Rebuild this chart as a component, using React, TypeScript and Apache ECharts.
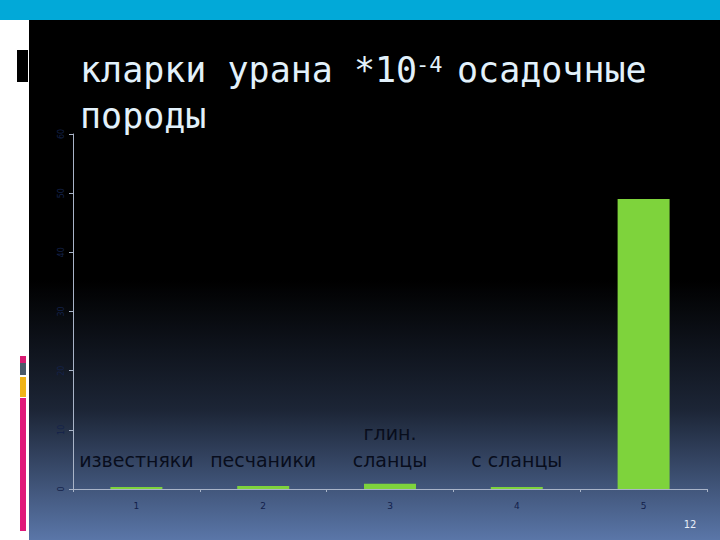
import React, { useEffect, useRef } from "react";
import * as echarts from "echarts";

const categories = ["1", "2", "3", "4", "5"];
const values = [0.35, 0.5, 0.9, 0.35, 49];
const barLabels = ["известняки", "песчаники", "глин.\nсланцы", "с сланцы", ""];
const yMin = 0;
const yMax = 60;
const yInterval = 10;

export default function App() {
  const ref = useRef<HTMLDivElement>(null);
  useEffect(() => {
    if (!ref.current) return;
    const chart = echarts.init(ref.current, null, { renderer: "svg" });
    const titleFont = "'DejaVu Sans Mono', monospace";
    const titleColor = "#e2f1fb";
    chart.setOption({
      animation: false,
      backgroundColor: "#ffffff",
      graphic: [
        { type: "rect", z: -10, shape: { x: 0, y: 0, width: 720, height: 20 }, style: { fill: "#02a9d8" } },
        { type: "rect", z: -10, shape: { x: 0, y: 20, width: 29, height: 520 }, style: { fill: "#ffffff" } },
        {
          type: "rect",
          z: -10,
          shape: { x: 29, y: 20, width: 691, height: 520 },
          style: {
            fill: new echarts.graphic.LinearGradient(0, 0, 0, 1, [
              { offset: 0, color: "#000000" },
              { offset: 0.5, color: "#000000" },
              { offset: 0.75, color: "#1c2536" },
              { offset: 1, color: "#5a76a8" },
            ]),
          },
        },
        { type: "rect", z: -9, shape: { x: 17, y: 50, width: 11, height: 32 }, style: { fill: "#000000" } },
        { type: "rect", z: -9, shape: { x: 20, y: 356, width: 6, height: 7 }, style: { fill: "#d81b72" } },
        { type: "rect", z: -9, shape: { x: 20, y: 363, width: 6, height: 12 }, style: { fill: "#4a5a6a" } },
        { type: "rect", z: -9, shape: { x: 20, y: 377, width: 6, height: 20 }, style: { fill: "#f0b418" } },
        { type: "rect", z: -9, shape: { x: 20, y: 398, width: 6, height: 133 }, style: { fill: "#e0197a" } },
        {
          type: "text",
          z: 5,
          style: { text: "кларки урана *10", x: 80, y: 87, fill: titleColor, font: `35px ${titleFont}`, verticalAlign: "bottom" },
        },
        {
          type: "text",
          z: 5,
          style: { text: "-4", x: 416, y: 53, fill: titleColor, font: `22px ${titleFont}`, verticalAlign: "top" },
        },
        {
          type: "text",
          z: 5,
          style: { text: "осадочные", x: 457, y: 87, fill: titleColor, font: `35px ${titleFont}`, verticalAlign: "bottom" },
        },
        {
          type: "text",
          z: 5,
          style: { text: "породы", x: 80, y: 133, fill: titleColor, font: `35px ${titleFont}`, verticalAlign: "bottom" },
        },
        {
          type: "text",
          z: 5,
          style: { text: "12", x: 690, y: 524, fill: "#e8eef8", font: "10px 'DejaVu Sans'", align: "center", verticalAlign: "middle" },
        },
      ],
      grid: { left: 73, right: 13, top: 134, bottom: 51, outerBoundsMode: "none", containLabel: false },
      xAxis: {
        type: "category",
        data: categories,
        axisLine: { lineStyle: { color: "#a9b4c8", width: 1 } },
        axisTick: { show: true, length: 3, lineStyle: { color: "#a9b4c8" } },
        axisLabel: { color: "#12204a", fontSize: 9, margin: 12, fontFamily: "DejaVu Sans" },
      },
      yAxis: {
        type: "value",
        min: yMin,
        max: yMax,
        interval: yInterval,
        splitLine: { show: false },
        axisLine: { show: true, lineStyle: { color: "#a9b4c8", width: 1 } },
        axisTick: { show: true, length: 4, lineStyle: { color: "#a9b4c8" } },
        axisLabel: { color: "#14224a", fontSize: 8, margin: 8, rotate: 90, fontFamily: "DejaVu Sans" },
      },
      series: [
        {
          type: "bar",
          data: values,
          barWidth: "41%",
          itemStyle: { color: "#7ed33c" },
          label: {
            show: true,
            position: "insideBottom",
            distance: 0,
            offset: [0, -16],
            formatter: (p: any) => barLabels[p.dataIndex],
            color: "#080d1c",
            fontSize: 19,
            fontFamily: "DejaVu Sans",
            lineHeight: 27,
            align: "center",
            verticalAlign: "bottom",
          },
        },
      ],
    });
    return () => chart.dispose();
  }, []);
  return <div ref={ref} style={{ position: "absolute", left: 0, top: 0, width: 720, height: 540 }} />;
}
